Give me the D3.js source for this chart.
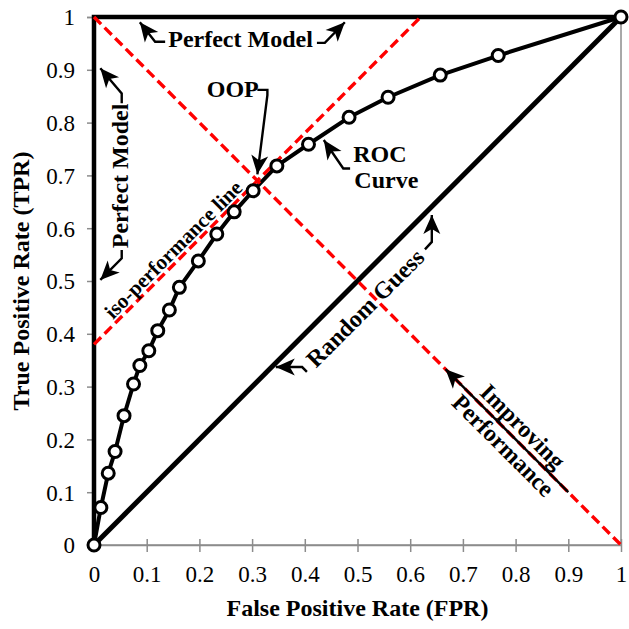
<!DOCTYPE html>
<html>
<head>
<meta charset="utf-8">
<script src="https://cdn.jsdelivr.net/npm/d3@7"></script>
<style>
  body { margin: 0; background: #fff; }
  svg { display: block; }
  text { font-family: "Liberation Serif", "Times New Roman", serif; fill: #000; }
</style>
</head>
<body>
<div class="card"></div>
<script>
const w = 629;
const h = 629;
const margin = {left: 94, right: 8, top: 17, bottom: 84};

// ROC curve points
const fpr = [0, 0.013, 0.027, 0.040, 0.057, 0.075, 0.087, 0.104, 0.121, 0.143, 0.162, 0.198, 0.233, 0.266, 0.302, 0.347, 0.407, 0.484, 0.558, 0.657, 0.767, 1];
const tpr = [0, 0.071, 0.136, 0.177, 0.245, 0.305, 0.340, 0.368, 0.406, 0.445, 0.488, 0.538, 0.589, 0.631, 0.671, 0.718, 0.759, 0.810, 0.848, 0.890, 0.927, 1];

const tickValues = [0, 0.1, 0.2, 0.3, 0.4, 0.5, 0.6, 0.7, 0.8, 0.9, 1];

// reference lines
const perfectModel = [[0, 0], [0, 1], [1, 1]];
const randomGuess = [[0, 0], [1, 1]];
const isoLine = [[0, 0.38], [0.62, 1]];
const diagLine = [[0, 1], [1, 0]];

var svg = d3.select(".card")
    .append("svg")
    .attr("width", w)
    .attr("height", h);

var x = d3.scaleLinear().domain([0, 1]).range([margin.left, w - margin.right]);
var y = d3.scaleLinear().domain([0, 1]).range([h - margin.bottom, margin.top]);

var defs = svg.append("defs");
defs.append("marker")
    .attr("id", "head")
    .attr("markerUnits", "userSpaceOnUse")
    .attr("viewBox", "-20 -10 22 20")
    .attr("refX", 0).attr("refY", 0)
    .attr("markerWidth", 22).attr("markerHeight", 20)
    .attr("orient", "auto")
    .append("path")
    .attr("d", "M0,0 L-19,-8.5 L-14,0 L-19,8.5 Z")
    .attr("fill", "#000");

var line = d3.line().x(d => x(d[0])).y(d => y(d[1]));

// plot area border (gray)
svg.append("rect")
    .attr("x", x(0)).attr("y", y(1))
    .attr("width", x(1) - x(0)).attr("height", y(0) - y(1))
    .attr("fill", "none").attr("stroke", "#8c8c8c").attr("stroke-width", 1.5);

// axes
var xAxis = d3.axisBottom(x).tickValues(tickValues).tickFormat(d3.format("")).tickSize(0);
var gx = svg.append("g")
    .attr("transform", "translate(0," + y(0) + ")")
    .call(xAxis);
gx.select(".domain").attr("stroke", "#8c8c8c").attr("stroke-width", 1.5);
gx.selectAll(".tick").append("line")
    .attr("y1", -6).attr("y2", 7)
    .attr("stroke", "#8c8c8c").attr("stroke-width", 1.5);
gx.selectAll(".tick text")
    .attr("y", 37).attr("dy", 0)
    .style("font-size", "23px");

var yAxis = d3.axisLeft(y).tickValues(tickValues).tickFormat(d3.format("")).tickSize(7).tickPadding(12);
var gy = svg.append("g")
    .attr("transform", "translate(" + x(0) + ",0)")
    .call(yAxis);
gy.select(".domain").attr("stroke", "#8c8c8c").attr("stroke-width", 1.5);
gy.selectAll(".tick line").attr("stroke", "#8c8c8c").attr("stroke-width", 1.5);
gy.selectAll(".tick text").style("font-size", "23px").attr("dy", "0.34em");
svg.selectAll(".tick text").attr("font-family", null).attr("fill", "#000");

// axis titles
svg.append("text")
    .attr("x", (x(0) + x(1)) / 2).attr("y", 616)
    .attr("text-anchor", "middle")
    .style("font-size", "24px").style("font-weight", "bold")
    .text("False Positive Rate (FPR)");
svg.append("text")
    .attr("transform", "translate(29," + y(0.5) + ") rotate(-90)")
    .attr("text-anchor", "middle")
    .style("font-size", "24px").style("font-weight", "bold")
    .text("True Positive Rate (TPR)");

// perfect model and random guess
svg.append("path").datum(perfectModel).attr("d", line)
    .attr("fill", "none").attr("stroke", "#000").attr("stroke-width", 4.5);
svg.append("path").datum(randomGuess).attr("d", line)
    .attr("fill", "none").attr("stroke", "#000").attr("stroke-width", 5);

// ROC curve
var roc = fpr.map((d, i) => [d, tpr[i]]);
svg.append("path").datum(roc).attr("d", line)
    .attr("fill", "none").attr("stroke", "#000").attr("stroke-width", 4)
    .attr("stroke-linejoin", "round");

// red dashed lines
[isoLine, diagLine].forEach(function (l) {
  svg.append("path").datum(l).attr("d", line)
      .attr("fill", "none").attr("stroke", "#ff0000").attr("stroke-width", 3.4)
      .attr("stroke-dasharray", "10,5");
});

svg.selectAll(".pt")
    .data(roc)
    .enter().append("circle")
    .attr("class", "pt")
    .attr("cx", d => x(d[0]))
    .attr("cy", d => y(d[1]))
    .attr("r", 6)
    .attr("fill", "#fff").attr("stroke", "#000").attr("stroke-width", 3);

// annotations (positions in data units)
function arrow(pts) {
  svg.append("path").datum(pts).attr("d", line)
      .attr("fill", "none").attr("stroke", "#000").attr("stroke-width", 2.4)
      .attr("marker-end", "url(#head)");
}
function label(txt, px, py, rot, anchor, size) {
  return svg.append("text")
      .attr("transform", "translate(" + x(px) + "," + y(py) + ") rotate(" + rot + ")")
      .attr("text-anchor", anchor || "middle")
      .style("font-size", (size || 24) + "px").style("font-weight", "bold")
      .text(txt);
}

// Perfect Model (top)
label("Perfect Model", 0.278, 0.944, 0);
arrow([[0.135, 0.953], [0.116, 0.953], [0.087, 0.99]]);
arrow([[0.423, 0.951], [0.438, 0.951], [0.476, 0.99]]);

// Perfect Model (left)
label("Perfect Model", 0.0645, 0.699, -90);
arrow([[0.0526, 0.8366], [0.0526, 0.855], [0.012, 0.903]]);
arrow([[0.0526, 0.5587], [0.0526, 0.543], [0.012, 0.502]]);

// OOP
label("OOP", 0.214, 0.849, 0, "start");
arrow([[0.31, 0.862], [0.329, 0.862], [0.329, 0.852], [0.31, 0.702]]);

// ROC Curve
label("ROC", 0.492, 0.726, 0, "start");
label("Curve", 0.494, 0.676, 0, "start");
arrow([[0.486, 0.713], [0.473, 0.713], [0.436, 0.767]]);

// Random Guess
label("Random Guess", 0.514, 0.449, -45).attr("dy", "0.35em");
arrow([[0.404, 0.328], [0.395, 0.337], [0.345, 0.337]]);
arrow([[0.628, 0.560], [0.641, 0.574], [0.641, 0.625]]);

// iso-performance line
label("iso-performance line", 0.150, 0.560, -45, "middle", 21).attr("dy", "0.35em");

// Improving Performance
label("Improving", 0.814, 0.225, 45).attr("dy", "0.35em");
label("Performance", 0.777, 0.189, 45).attr("dy", "0.35em");
arrow([[0.9, 0.1], [0.667, 0.333]]);
</script>
</body>
</html>
